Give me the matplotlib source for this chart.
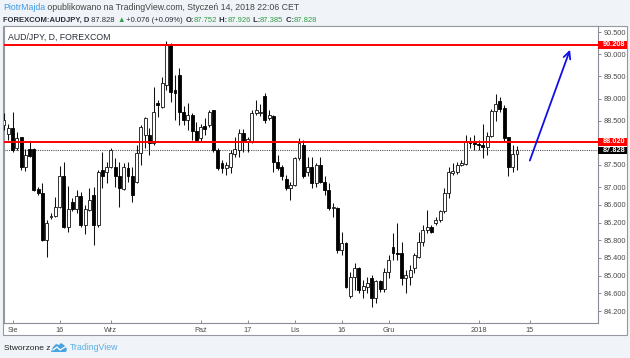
import matplotlib
matplotlib.use('Agg')
import matplotlib.pyplot as plt
import matplotlib.transforms as mtransforms
from matplotlib.patches import Rectangle, Polygon
import numpy as np
import pandas as pd

# ---------------- data ----------------
start_date = '2017-07-28'
end_date = '2018-01-12'

opens = [88.40, 88.20, 88.34, 87.88, 88.12, 87.45, 87.86, 87.86, 86.96, 86.87,
         85.81, 86.33, 86.35, 86.55, 87.25, 86.10, 86.67, 86.51, 86.80, 86.15,
         86.48, 86.82, 86.15, 87.39, 87.35, 87.46, 87.46, 87.24, 86.96, 87.43,
         87.24, 87.12, 87.77, 88.18, 88.18, 88.00, 88.90, 88.81, 89.31, 90.21,
         89.19, 89.53, 88.70, 88.52, 88.63, 88.27, 88.10, 88.38, 88.40, 88.73,
         87.84, 87.55, 87.43, 87.45, 87.75, 87.84, 88.22, 88.02, 88.02, 88.67,
         88.67, 89.06, 88.56, 88.61, 87.57, 87.46, 87.18, 86.98, 87.05, 87.66,
         87.95, 87.35, 87.46, 87.09, 87.50, 87.12, 86.94, 86.53, 86.53, 85.58,
         85.74, 84.54, 84.98, 85.17, 84.68, 84.75, 84.95, 84.50, 84.87, 84.70,
         85.09, 85.65, 85.51, 85.51, 84.95, 84.96, 85.17, 85.43, 85.77, 86.03,
         86.11, 86.19, 86.26, 86.45, 86.87, 87.32, 87.34, 87.50, 87.52, 88.02,
         88.01, 87.97, 87.95, 87.91, 88.16, 88.72, 88.94, 88.79, 88.12, 87.46,
         87.752]
highs = [88.67, 88.43, 88.70, 88.24, 88.13, 87.86, 88.03, 87.88, 87.01, 87.10,
         86.26, 86.42, 86.78, 87.48, 87.57, 87.03, 86.76, 86.94, 86.90, 86.60,
         86.98, 87.01, 87.39, 87.80, 87.57, 87.88, 87.66, 87.57, 87.55, 87.57,
         87.46, 87.95, 88.40, 88.59, 88.34, 89.27, 88.97, 89.49, 90.30, 90.25,
         89.53, 89.69, 88.82, 88.90, 88.67, 88.47, 88.42, 88.56, 88.74, 88.74,
         87.88, 87.61, 87.57, 87.84, 88.14, 88.31, 88.31, 88.14, 88.74, 88.97,
         88.88, 89.13, 88.74, 88.63, 87.72, 87.50, 87.27, 87.12, 87.69, 88.11,
         88.06, 87.69, 87.69, 87.55, 87.69, 87.24, 87.09, 86.64, 86.56, 85.99,
         85.77, 85.09, 85.29, 85.20, 84.90, 84.98, 85.02, 84.90, 84.90, 85.17,
         85.47, 85.96, 86.19, 85.76, 85.13, 85.24, 85.51, 85.99, 86.15, 86.48,
         86.15, 86.33, 86.48, 86.98, 87.46, 87.55, 87.57, 87.61, 88.18, 88.14,
         88.18, 88.06, 88.43, 88.25, 88.76, 89.10, 89.04, 88.85, 88.14, 87.95,
         87.926]
lows = [88.29, 88.06, 87.80, 87.84, 87.39, 87.36, 87.69, 86.92, 86.82, 85.79,
        85.43, 86.28, 86.33, 86.53, 86.08, 85.99, 86.45, 86.42, 86.11, 85.94,
        86.45, 85.69, 86.11, 86.98, 87.09, 87.43, 87.01, 86.56, 86.94, 87.12,
        86.67, 87.10, 87.50, 87.88, 87.73, 87.95, 88.59, 88.79, 89.19, 88.93,
        88.52, 88.40, 88.40, 88.29, 88.06, 88.04, 88.02, 88.18, 88.36, 87.80,
        87.39, 87.32, 87.27, 87.32, 87.69, 87.69, 87.80, 87.80, 88.00, 88.63,
        88.61, 88.45, 88.52, 87.35, 87.39, 87.16, 86.94, 86.71, 87.03, 87.61,
        87.21, 87.24, 86.98, 87.01, 87.09, 86.82, 86.48, 86.33, 85.51, 85.47,
        84.72, 84.50, 84.68, 84.61, 84.50, 84.61, 84.30, 84.38, 84.64, 84.64,
        84.95, 85.36, 85.36, 84.79, 84.61, 84.79, 85.06, 85.40, 85.66, 85.96,
        85.96, 86.15, 86.22, 86.42, 86.76, 87.27, 87.30, 87.48, 87.50, 87.88,
        87.84, 87.84, 87.66, 87.73, 88.14, 88.49, 88.70, 88.03, 87.24, 87.35,
        87.385]
closes = [88.52, 88.34, 87.84, 88.11, 87.45, 87.73, 87.71, 86.94, 86.87, 85.81,
          86.19, 86.35, 86.56, 87.24, 86.10, 86.51, 86.51, 86.80, 86.15, 86.51,
          86.71, 86.15, 87.35, 87.24, 87.46, 87.84, 87.24, 86.98, 87.46, 87.24,
          86.82, 87.77, 88.36, 88.56, 88.00, 88.70, 88.85, 89.35, 90.21, 89.15,
          89.13, 88.70, 88.52, 88.63, 88.27, 88.06, 88.36, 88.31, 88.70, 87.84,
          87.43, 87.43, 87.50, 87.77, 87.86, 88.22, 88.02, 88.09, 88.67, 88.74,
          88.70, 88.52, 88.63, 87.57, 87.43, 87.24, 86.98, 87.05, 87.66, 88.00,
          87.24, 87.46, 87.09, 87.50, 87.12, 86.94, 86.53, 86.54, 85.58, 85.74,
          84.75, 84.98, 85.17, 84.68, 84.77, 84.84, 84.50, 84.87, 84.70, 85.09,
          85.36, 85.51, 85.50, 84.95, 85.02, 85.13, 85.47, 85.77, 86.03, 86.11,
          85.99, 86.26, 86.45, 86.87, 87.34, 87.36, 87.50, 87.55, 88.02, 88.00,
          87.97, 87.94, 87.91, 88.16, 88.72, 88.88, 88.76, 88.11, 87.46, 87.752,
          87.828]

tick_labels = ['Sie', '16', 'Wrz', 'Paź', '17', 'Lis', '16', 'Gru', '2018', '15']
tick_dates = ['2017-08-01', '2017-08-16', '2017-09-01', '2017-10-02', '2017-10-17',
              '2017-11-01', '2017-11-16', '2017-12-01', '2018-01-01', '2018-01-15']
# 88.000 is hidden behind the 88.020 marker in the reference
y_ticks = [84.2, 84.6, 85.0, 85.4, 85.8, 86.2, 86.6, 87.0, 87.5,
           88.5, 89.0, 89.5, 90.0, 90.5]

resistance_hi = 90.208
resistance_lo = 88.020
arrow_from = (123.0, 87.60)   # (bar index, price)
arrow_to = (132.4, 90.10)

symbol = 'FOREXCOM:AUDJPY, D'
chart_title = 'AUD/JPY, D, FOREXCOM'
author = 'PiotrMajda'
published = ' opublikowano na TradingView.com, Styczeń 14, 2018 22:06 CET'

# ---------------- figure ----------------
W, H = 630, 358
DPI = 100
FAM = ['Liberation Sans', 'DejaVu Sans']
BG = '#f0f3f7'
DARK = '#2a2e39'
GREEN = '#2f9e44'
BLUE_TXT = '#3d9be9'
FRAME = '#9598a1'

fig = plt.figure(figsize=(W / DPI, H / DPI), dpi=DPI, facecolor=BG)


def fx(x):
    return x / W


def fy(y):
    return 1 - y / H


# chart frame (white area incl. axis strips)
fig.add_artist(Rectangle((fx(3), fy(335)), (627 - 3) / W, (335 - 26) / H,
                         transform=fig.transFigure, facecolor='white',
                         edgecolor=FRAME, lw=0.8, zorder=0))

ax_l, ax_r, ax_t, ax_b = 3.5, 598, 26, 323
ax = fig.add_axes([fx(ax_l), fy(ax_b), (ax_r - ax_l) / W, (ax_b - ax_t) / H])
ax.set_facecolor('white')

dates = pd.bdate_range(start_date, end_date)
n = len(opens)
idx = np.arange(n)
o = np.array(opens)
h = np.array(highs)
l = np.array(lows)
c = np.array(closes)

# wicks
ax.vlines(idx, l, h, color='#111111', lw=0.75, zorder=3)
# bodies
up = c >= o
bottom = np.minimum(o, c)
height = np.maximum(np.abs(c - o), 0.012)
ax.bar(idx[up], height[up], bottom=bottom[up], width=0.68,
       facecolor='white', edgecolor='#111111', lw=0.6, zorder=4)
ax.bar(idx[~up], height[~up], bottom=bottom[~up], width=0.68,
       facecolor='black', edgecolor='black', lw=0.6, zorder=4)

# horizontal lines
ax.axhline(resistance_hi, color='#ff0000', lw=1.4, zorder=5)
ax.axhline(resistance_lo, color='#ff0000', lw=1.4, zorder=5)
ax.axhline(c[-1], color='#555555', lw=0.8, ls=(0, (1, 1)), zorder=2)

# arrow
ax.annotate('', xy=arrow_to, xytext=arrow_from,
            arrowprops=dict(arrowstyle='->,head_length=0.5,head_width=0.25',
                            color='#1010e6', lw=1.3, shrinkA=0, shrinkB=0),
            zorder=6)

# limits: pixel mapping from reference
px_per_bar = 4.275
x0_px = 4.0
ax.set_xlim((ax_l - x0_px) / px_per_bar, (ax_r - x0_px) / px_per_bar)
px_per_unit = 44.3
ref_y, ref_v = 45.0, resistance_hi
ax.set_ylim(ref_v - (ax_b - ref_y) / px_per_unit, ref_v + (ref_y - ax_t) / px_per_unit)

# x ticks
last_date = dates[-1]
xpos = []
for d in pd.to_datetime(tick_dates):
    if d <= last_date:
        xpos.append(dates.get_loc(d))
    else:
        xpos.append(n - 1 + (d - last_date).days)
ax.set_xticks(xpos)
ax.set_xticklabels(tick_labels)
ax.tick_params(axis='x', direction='in', length=2, width=0.6, colors='#777777',
               labelsize=5.3, pad=3, labelcolor='#4a4a4a')
for lab in ax.get_xticklabels():
    lab.set_family(FAM)

# y ticks on right
ax.yaxis.tick_right()
ax.set_yticks(y_ticks)
ax.set_yticklabels(['%.3f' % v for v in y_ticks])
ax.tick_params(axis='y', direction='out', length=2.5, width=0.6, colors='#777777',
               labelsize=5.3, pad=1.5, labelcolor='#4a4a4a')
for lab in ax.get_yticklabels():
    lab.set_family(FAM)

for s in ['left', 'top']:
    ax.spines[s].set_color(FRAME)
    ax.spines[s].set_linewidth(0.8)
for s in ['right', 'bottom']:
    ax.spines[s].set_color('#8a8e97')
    ax.spines[s].set_linewidth(0.8)

# price labels on the right axis
blend = mtransforms.blended_transform_factory(ax.transAxes, ax.transData)
box_w = (627 - ax_r) / (ax_r - ax_l)
box_h = 7.6 / px_per_unit
for val, col in [(resistance_hi, '#ff0000'), (resistance_lo, '#ff0000'), (c[-1], '#000000')]:
    ax.add_patch(Rectangle((1.0, val - box_h / 2), box_w, box_h, transform=blend,
                           facecolor=col, edgecolor=col, lw=0, clip_on=False, zorder=10))
    ax.text(1.0 + 4.5 / (ax_r - ax_l), val, '%.3f' % val, transform=blend, color='white',
            fontsize=5.3, fontweight='bold', va='center', ha='left', family=FAM,
            clip_on=False, zorder=11)

# chart title inside
ax.text((8 - ax_l) / (ax_r - ax_l), 1 - (37 - ax_t) / (ax_b - ax_t),
        chart_title, transform=ax.transAxes, fontsize=6.3, color=DARK, va='center',
        ha='left', family=FAM, zorder=12)

# ---------------- header ----------------
renderer = fig.canvas.get_renderer()


def seq_text(x0, y, parts, size):
    x = x0
    for s, color, weight in parts:
        t = fig.text(fx(x), fy(y), s, color=color, fontsize=size, fontweight=weight,
                     va='center', ha='left', family=FAM)
        bb = t.get_window_extent(renderer)
        x += bb.width
    return x


seq_text(3, 8, [(author, BLUE_TXT, 'normal'), (published, '#444444', 'normal')], 6.3)

chg = c[-1] - c[-2]
pct = chg / c[-2] * 100
seq_text(3, 20, [
    (symbol, DARK, 'bold'),
    (' %.3f ' % c[-1], DARK, 'normal'),
    ('\u25b2', GREEN, 'normal'),
    (' %+.3f (%+.2f%%) ' % (chg, pct), DARK, 'normal'),
    ('O:', DARK, 'bold'), ('%.3f' % o[-1], GREEN, 'normal'),
    (' H:', DARK, 'bold'), ('%.3f' % h[-1], GREEN, 'normal'),
    (' L:', DARK, 'bold'), ('%.3f' % l[-1], GREEN, 'normal'),
    (' C:', DARK, 'bold'), ('%.3f' % c[-1], GREEN, 'normal'),
], 5.5)

# ---------------- footer ----------------
fig.text(fx(4), fy(348), 'Stworzone z', fontsize=6.0, color='#222222', va='center',
         ha='left', family=FAM)
logo = Polygon([(fx(51), fy(352)), (fx(53), fy(347)), (fx(56), fy(344)), (fx(59), fy(345)),
                (fx(61), fy(343)), (fx(64), fy(345)), (fx(67), fy(349)), (fx(66), fy(352))],
               closed=True, transform=fig.transFigure, facecolor='#4aa3df', edgecolor='none')
fig.add_artist(logo)
fig.add_artist(plt.Line2D([fx(53), fx(57), fx(60), fx(65)], [fy(350), fy(347), fy(350), fy(347)],
                          transform=fig.transFigure, color='white', lw=0.9))
fig.text(fx(70), fy(348), 'TradingView', fontsize=6.3, color='#5aaee6', va='center',
         ha='left', family=FAM)

fig.savefig('out.png', dpi=DPI, facecolor=BG)
